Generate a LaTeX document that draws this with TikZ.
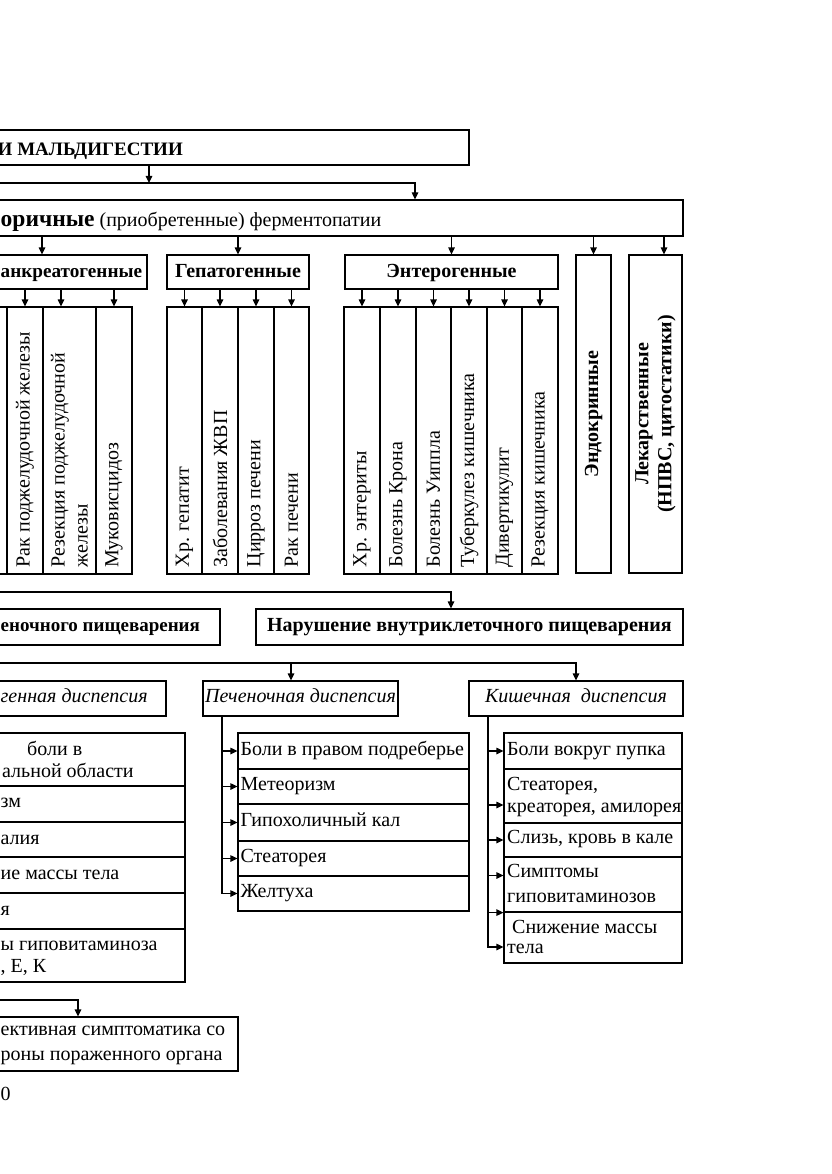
\documentclass[tikz,border=0pt]{standalone}
\usepackage{fontspec}
\setmainfont{Liberation Serif}
\usetikzlibrary{arrows.meta,fit}
\begin{document}
\begin{tikzpicture}[x=1pt,y=-1pt,
  box/.style={draw, line width=1.2pt, inner sep=0pt, rectangle},
  txt/.style={inner sep=0pt},
  conn/.style={line width=1.2pt},
  arr/.style={line width=1.2pt, -{Triangle[length=7pt,width=6.5pt]}},
  vtxt/.style={inner sep=0pt, rotate=90, anchor=west, align=left},
  vbold/.style={inner sep=0pt, rotate=90, align=center, font=\bfseries},
]
\fontsize{20}{23}\selectfont
\useasboundingbox (0,0) rectangle (831,1174);
\fill[white] (0,0) rectangle (831,1174);

% ---- top
\node[box, fit={(-10,130)(469,165)}] (top) {};
\node[txt, font=\fontsize{19}{22}\selectfont\bfseries, anchor=base east] (topt) at (183,156) {И МАЛЬДИГЕСТИИ};
\coordinate (j1) at (149,183);
\draw[arr] (top.south -| j1) -- (j1);
\coordinate (b1l) at (-5,183);
\coordinate (b1r) at (415,183);
\node[box, fit={(-10,200)(683,236)}] (sec) {};
\draw[arr] (b1l) -- (b1r) -- (sec.north -| b1r);
\node[txt, anchor=base west] (sect) at (0.5,226) {{\fontsize{23.5}{28}\selectfont\bfseries оричные} (приобретенные) ферментопатии};

% ---- groups
\node[box, fit={(-63,255)(147,289)}] (panc) {};
\node[txt, font=\fontsize{19.2}{22}\selectfont\bfseries, anchor=base west] (panct) at (0.5,277) {анкреатогенные};
\node[box, fit={(167,255)(309,289)}] (hep) {};
\node[txt, font=\bfseries, anchor=base] (hept) at (238,277) {Гепатогенные};
\node[box, fit={(345,255)(558,289)}] (ent) {};
\node[txt, font=\bfseries, anchor=base] (entt) at (451.5,277) {Энтерогенные};
\node[box, fit={(576,255)(611,573)}] (endo) {};
\node[vbold] (endot) at (endo.center) {Эндокринные};
\node[box, fit={(629,255)(682,573)}] (lek) {};
\node[vbold] (lekt) at (lek.center) {Лекарственные\\(НПВС, цитостатики)};

\coordinate (a5) at (664,0);
\draw[arr] (sec.south -| panc.north) -- (panc.north);
\draw[arr] (sec.south -| hep.north) -- (hep.north);
\draw[arr] (sec.south -| ent.north) -- (ent.north);
\draw[arr] (sec.south -| endo.north) -- (endo.north);
\draw[arr] (sec.south -| a5) -- (lek.north -| a5);

% ---- pancreatogenic columns
\node[box, fit={(-40,307)(7,574)}] (p0) {};
\node[box, fit={(7,307)(43,574)}] (p1) {};
\node[box, fit={(43,307)(96,574)}] (p2) {};
\node[box, fit={(96,307)(132,574)}] (p3) {};
\node[vtxt] (p1t) at ([yshift=7pt]p1.south) {Рак поджелудочной железы};
\node[vtxt] (p2t) at ([yshift=7pt]p2.south) {Резекция поджелудочной\\железы};
\node[vtxt] (p3t) at ([yshift=7pt]p3.south) {Муковисцидоз};
\coordinate (a2) at (61,0);
\draw[arr] (panc.south -| p1.north) -- (p1.north);
\draw[arr] (panc.south -| a2) -- (p2.north -| a2);
\draw[arr] (panc.south -| p3.north) -- (p3.north);

% ---- hepatogenic columns
\node[box, fit={(167,307)(202,574)}] (h1) {};
\node[box, fit={(202,307)(238,574)}] (h2) {};
\node[box, fit={(238,307)(274,574)}] (h3) {};
\node[box, fit={(274,307)(309,574)}] (h4) {};
\node[vtxt] (h1t) at ([yshift=7pt]h1.south) {Хр. гепатит};
\node[vtxt] (h2t) at ([yshift=7pt]h2.south) {Заболевания ЖВП};
\node[vtxt] (h3t) at ([yshift=7pt]h3.south) {Цирроз печени};
\node[vtxt] (h4t) at ([yshift=7pt]h4.south) {Рак печени};
\foreach \n in {h1,h2,h3,h4} \draw[arr] (hep.south -| \n.north) -- (\n.north);

% ---- enterogenic columns
\node[box, fit={(344,307)(380,574)}] (e1) {};
\node[box, fit={(380,307)(416,574)}] (e2) {};
\node[box, fit={(416,307)(451,574)}] (e3) {};
\node[box, fit={(451,307)(487,574)}] (e4) {};
\node[box, fit={(487,307)(522,574)}] (e5) {};
\node[box, fit={(522,307)(558,574)}] (e6) {};
\node[vtxt] (e1t) at ([yshift=7pt]e1.south) {Хр. энтериты};
\node[vtxt] (e2t) at ([yshift=7pt]e2.south) {Болезнь Крона};
\node[vtxt] (e3t) at ([yshift=7pt]e3.south) {Болезнь Уиппла};
\node[vtxt] (e4t) at ([yshift=7pt]e4.south) {Туберкулез кишечника};
\node[vtxt] (e5t) at ([yshift=7pt]e5.south) {Дивертикулит};
\node[vtxt] (e6t) at ([yshift=7pt]e6.south) {Резекция кишечника};
\foreach \n in {e1,e2,e3,e4,e5,e6} \draw[arr] (ent.south -| \n.north) -- (\n.north);

% ---- digestion level
\node[box, fit={(-10,609)(220,645)}] (pris) {};
\node[txt, font=\fontsize{19}{22}\selectfont\bfseries, anchor=base west] (prist) at (0.5,631) {еночного пищеварения};
\node[box, fit={(256,609)(683,645)}] (vnut) {};
\node[txt, font=\bfseries, anchor=base] (vnutt) at (469.5,631) {Нарушение внутриклеточного пищеварения};
\coordinate (b2l) at (-5,592);
\coordinate (b2r) at (451,592);
\draw[arr] (b2l) -- (b2r) -- (vnut.north -| b2r);

% ---- dyspepsia
\node[box, fit={(-10,681)(166,716)}] (pd) {};
\node[txt, font=\itshape, anchor=base west] (pdt) at (0.5,702) {генная диспепсия};
\node[box, fit={(203,681)(398,716)}] (pech) {};
\node[txt, font=\itshape, anchor=base] (pecht) at (300.5,702) {Печеночная диспепсия};
\node[box, fit={(469,681)(683,716)}] (kish) {};
\node[txt, font=\itshape, anchor=base] (kisht) at (576,702) {Кишечная\ \ диспепсия};
\coordinate (b3l) at (-5,663);
\coordinate (b3a) at (291,663);
\draw[arr] (b3l) -- (b3l -| kish.north) -- (kish.north);
\draw[arr] (b3a) -- (pech.north -| b3a);

% ---- left symptom list
\node[box, fit={(-10,733)(185,786)}] (L1) {};
\node[box, fit={(-10,786)(185,822)}] (L2) {};
\node[box, fit={(-10,822)(185,857)}] (L3) {};
\node[box, fit={(-10,857)(185,893)}] (L4) {};
\node[box, fit={(-10,893)(185,929)}] (L5) {};
\node[box, fit={(-10,929)(185,982)}] (L6) {};
\node[txt, anchor=base west] (L1a) at (27,755) {боли в};
\node[txt, anchor=base west] (L1b) at (2,777) {альной области};
\node[txt, anchor=base west] (L2t) at (0.5,807) {зм};
\node[txt, anchor=base west] (L3t) at (0.5,844) {алия};
\node[txt, anchor=base west] (L4t) at (0.5,879) {ие массы тела};
\node[txt, anchor=base west] (L5t) at (0.5,915) {я};
\node[txt, anchor=base west] (L6a) at (0.5,950) {ы гиповитаминоза};
\node[txt, anchor=base west] (L6b) at (0.5,972) {, Е, К};

% ---- liver list
\node[box, fit={(238,733)(469,769)}] (R1) {};
\node[box, fit={(238,769)(469,804)}] (R2) {};
\node[box, fit={(238,804)(469,841)}] (R3) {};
\node[box, fit={(238,841)(469,876)}] (R4) {};
\node[box, fit={(238,876)(469,911)}] (R5) {};
\node[txt, anchor=base west] (R1t) at ([xshift=3pt,yshift=-4pt]R1.west) {Боли в правом подреберье};
\node[txt, anchor=base west] (R2t) at ([xshift=3pt,yshift=-4pt]R2.west) {Метеоризм};
\node[txt, anchor=base west] (R3t) at ([xshift=3pt,yshift=-4pt]R3.west) {Гипохоличный кал};
\node[txt, anchor=base west] (R4t) at ([xshift=3pt,yshift=-4pt]R4.west) {Стеаторея};
\node[txt, anchor=base west] (R5t) at ([xshift=3pt,yshift=-4pt]R5.west) {Желтуха};
\coordinate (ps) at (222,0);
\draw[conn] (pech.south -| ps) -- (R5.west -| ps);
\foreach \n in {R1,R2,R3,R4,R5} \draw[arr] (\n.west -| ps) -- (\n.west);

% ---- intestinal list
\node[box, fit={(504,733)(682,769)}] (K1) {};
\node[box, fit={(504,769)(682,823)}] (K2) {};
\node[box, fit={(504,823)(682,857)}] (K3) {};
\node[box, fit={(504,857)(682,912)}] (K4) {};
\node[box, fit={(504,912)(682,963)}] (K5) {};
\node[txt, anchor=base west] (K1t) at (507,755) {Боли вокруг пупка};
\node[txt, anchor=base west, align=left, font=\fontsize{20}{22}\selectfont] (K2t) at (507,812) {Стеаторея,\\креаторея, амилорея};
\node[txt, anchor=base west] (K3t) at (507,843) {Слизь, кровь в кале};
\node[txt, anchor=base west, align=left, font=\fontsize{20}{25}\selectfont] (K4t) at (507,902) {Симптомы\\гиповитаминозов};
\node[txt, anchor=base west, align=left, font=\fontsize{20}{20}\selectfont] (K5t) at (507,953) {\ Снижение массы\\тела};
\coordinate (ks) at (488,0);
\draw[conn] (kish.south -| ks) -- (ks |- 0,947);
\draw[arr] (K1.west -| ks) -- (K1.west);
\draw[arr] ([yshift=-9pt]K2.west) ++(-16,0) -- ([yshift=-9pt]K2.west);
\draw[arr] (K3.west -| ks) -- (K3.west);
\draw[arr] ([yshift=9pt]K4.west) ++(-16,0) -- ([yshift=9pt]K4.west);
\draw[arr] (K4.south west -| ks) -- (K4.south west);
\draw[arr] ([yshift=-9.5pt]K5.west) ++(-16,0) -- ([yshift=-9.5pt]K5.west);

% ---- bottom
\node[box, fit={(-10,1017)(238,1071)}] (obj) {};
\node[txt, anchor=base west] (obja) at (0.5,1035) {ективная симптоматика со};
\node[txt, anchor=base west] (objb) at (0.5,1060) {роны пораженного органа};
\coordinate (b4l) at (-5,1000);
\coordinate (b4r) at (78,1000);
\draw[arr] (b4l) -- (b4r) -- (obj.north -| b4r);
\node[txt, anchor=base west] (pg) at (0.5,1100) {0};
\end{tikzpicture}
\end{document}
